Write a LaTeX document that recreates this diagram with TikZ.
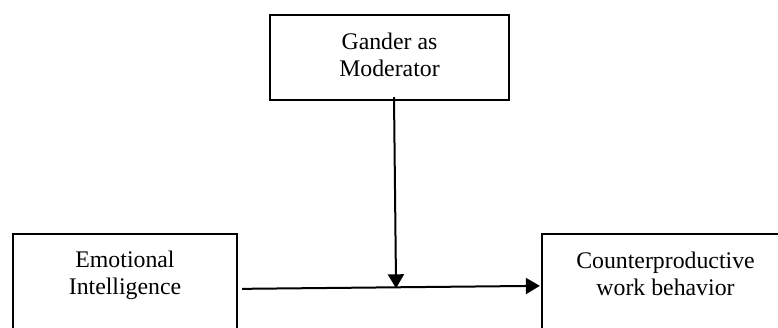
\documentclass[tikz,border=0pt]{standalone}
\usepackage{fontspec}
\setmainfont{Liberation Serif}
\usetikzlibrary{arrows.meta,calc}
\begin{document}
\begin{tikzpicture}[x=1pt,y=-1pt,
  box/.style={draw,line width=2.3pt,inner sep=0pt},
  lbl/.style={align=center,inner sep=0pt,font=\fontsize{23.8}{27}\selectfont},
  arr/.style={line width=2pt,-{Triangle[length=14pt,width=16pt]}}]
\useasboundingbox (0,0) rectangle (778,328);
\node[box,minimum width=239pt,minimum height=85pt] (gm) at (389.5,57.5) {};
\node[lbl] (gmt) at (389.5,55) {Gander as\\Moderator};
\node[box,minimum width=224pt,minimum height=110pt] (ei) at (125,289) {};
\node[lbl] (eit) at (125,275) {Emotional\\Intelligence};
\node[box,minimum width=248pt,minimum height=110pt] (cwb) at (666,289) {};
\node[lbl] (cwbt) at (665.5,274) {Counterproductive\\work behavior};
\coordinate (hs) at ($(ei.north east)+(4,56)$);
\coordinate (he) at ($(cwb.north west)+(-1,53)$);
\coordinate (m) at ($(hs)!0.517!(he)$);
\draw[arr] (hs) -- (he);
\draw[arr] ($(gm.south)+(4.5,-4)$) -- ($(m)+(0,1)$);
\end{tikzpicture}
\end{document}
